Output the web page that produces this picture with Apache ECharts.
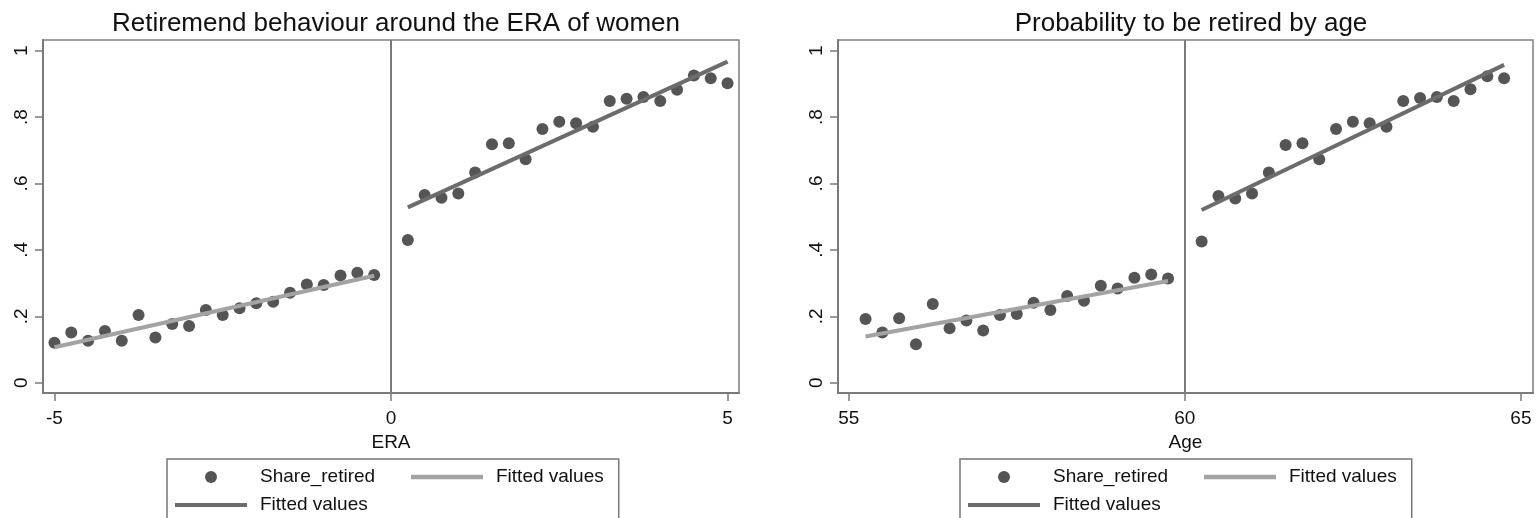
<!DOCTYPE html>
<html>
<head>
<meta charset="utf-8">
<script src="https://cdn.jsdelivr.net/npm/echarts@6/dist/echarts.min.js"></script>
<style>
  html, body { margin: 0; padding: 0; background: #fff; }
  #main { width: 1537px; height: 518px; }
</style>
</head>
<body>
<div id="main"></div>
<script>
// --- data ---
const titles = ['Retiremend behaviour around the ERA of women', 'Probability to be retired by age']
const axisNames = ['ERA', 'Age']

const eraTicks = [-5, 0, 5]
const ageTicks = [55, 60, 65]
const yTicks = [0, 0.2, 0.4, 0.6, 0.8, 1]
const yTickLabels = ['0', '.2', '.4', '.6', '.8', '1']

// left panel: ERA
const eraLeftX = [-5, -4.75, -4.5, -4.25, -4, -3.75, -3.5, -3.25, -3, -2.75, -2.5, -2.25, -2, -1.75, -1.5, -1.25, -1, -0.75, -0.5, -0.25]
const eraLeftY = [0.120, 0.151, 0.126, 0.156, 0.126, 0.204, 0.136, 0.177, 0.171, 0.219, 0.204, 0.224, 0.239, 0.244, 0.271, 0.296, 0.294, 0.323, 0.331, 0.324]
const eraRightX = [0.25, 0.5, 0.75, 1, 1.25, 1.5, 1.75, 2, 2.25, 2.5, 2.75, 3, 3.25, 3.5, 3.75, 4, 4.25, 4.5, 4.75, 5]
const eraRightY = [0.430, 0.565, 0.557, 0.570, 0.633, 0.718, 0.721, 0.673, 0.764, 0.786, 0.781, 0.771, 0.848, 0.855, 0.860, 0.848, 0.882, 0.925, 0.917, 0.902]
const eraFitLeftX = [-5, -0.25]
const eraFitLeftY = [0.107, 0.322]
const eraFitRightX = [0.25, 5]
const eraFitRightY = [0.528, 0.967]

// right panel: Age
const ageLeftX = [55.25, 55.5, 55.75, 56, 56.25, 56.5, 56.75, 57, 57.25, 57.5, 57.75, 58, 58.25, 58.5, 58.75, 59, 59.25, 59.5, 59.75]
const ageLeftY = [0.192, 0.151, 0.194, 0.116, 0.237, 0.164, 0.187, 0.157, 0.204, 0.207, 0.241, 0.219, 0.261, 0.247, 0.292, 0.284, 0.316, 0.326, 0.314]
const ageRightX = [60.25, 60.5, 60.75, 61, 61.25, 61.5, 61.75, 62, 62.25, 62.5, 62.75, 63, 63.25, 63.5, 63.75, 64, 64.25, 64.5, 64.75]
const ageRightY = [0.425, 0.562, 0.555, 0.570, 0.633, 0.716, 0.721, 0.673, 0.764, 0.786, 0.781, 0.771, 0.848, 0.857, 0.860, 0.848, 0.884, 0.923, 0.917]
const ageFitLeftX = [55.25, 59.75]
const ageFitLeftY = [0.139, 0.306]
const ageFitRightX = [60.25, 64.75]
const ageFitRightY = [0.520, 0.957]

const font = "'Liberation Sans', Arial, sans-serif"
const axisGray = '#7a7a7a'
const dotColor = '#555555'
const fitLight = '#a3a3a3'
const fitDark = '#6c6c6c'

const zip = (xs, ys) => xs.map((x, i) => [x, ys[i]])

function xAxisFor(idx, min, max, ticks) {
  return {
    gridIndex: idx, type: 'value', min: min, max: max,
    name: axisNames[idx], nameLocation: 'middle', nameGap: 28,
    nameTextStyle: { fontFamily: font, fontSize: 19, color: '#111' },
    splitLine: { show: false },
    axisLine: { show: true, onZero: false, lineStyle: { color: axisGray, width: 2 } },
    axisTick: { show: true, length: 8, customValues: ticks, lineStyle: { color: axisGray, width: 1.5 } },
    axisLabel: { customValues: ticks, margin: 16, fontFamily: font, fontSize: 19, color: '#111' }
  }
}

function yAxisFor(idx) {
  return {
    gridIndex: idx, type: 'value', min: -0.031, max: 1.032,
    splitLine: { show: false },
    axisLine: { show: true, onZero: false, lineStyle: { color: axisGray, width: 2 } },
    axisTick: { show: true, length: 8, customValues: yTicks, lineStyle: { color: axisGray, width: 1.5 } },
    axisLabel: {
      customValues: yTicks, rotate: 90, margin: 12,
      fontFamily: font, fontSize: 19, color: '#111',
      formatter: v => {
        let i = yTicks.findIndex(t => Math.abs(t - v) < 1e-9)
        return i >= 0 ? yTickLabels[i] : ''
      }
    }
  }
}

function legendFor(left) {
  return {
    left: left, top: 459, width: 440,
    orient: 'horizontal', selectedMode: false,
    itemWidth: 72, itemHeight: 12, itemGap: 8,
    padding: [8, 15, 8, 8],
    borderColor: '#777', borderWidth: 1.5, backgroundColor: '#fff',
    textStyle: { fontFamily: font, fontSize: 19, color: '#111', lineHeight: 20, padding: [0, 0, 0, 8] },
    formatter: name => name.indexOf('Fitted values') === 0 ? 'Fitted values' : name,
    data: [
      { name: 'Share_retired', icon: 'circle', textStyle: { width: 143 } },
      { name: 'Fitted values', icon: 'path://M0 0H72V4.5H0Z' },
      { name: 'Fitted values 2', icon: 'path://M0 0H72V4H0Z' }
    ]
  }
}

function panelSeries(idx, lx, ly, rx, ry, flx, fly, frx, fry, cut) {
  return [
    {
      name: 'Share_retired', type: 'scatter', xAxisIndex: idx, yAxisIndex: idx,
      symbolSize: 12, itemStyle: { color: dotColor, opacity: 1 }, silent: true,
      data: zip(lx, ly).concat(zip(rx, ry))
    },
    {
      name: 'Fitted values', type: 'line', xAxisIndex: idx, yAxisIndex: idx,
      symbol: 'none', showSymbol: false, silent: true,
      lineStyle: { color: fitLight, width: 4 }, itemStyle: { color: fitLight },
      data: zip(flx, fly)
    },
    {
      name: 'Fitted values 2', type: 'line', xAxisIndex: idx, yAxisIndex: idx,
      symbol: 'none', showSymbol: false, silent: true,
      lineStyle: { color: fitDark, width: 4 }, itemStyle: { color: fitDark },
      data: zip(frx, fry),
      markLine: {
        silent: true, symbol: ['none', 'none'], label: { show: false },
        lineStyle: { type: 'solid', color: axisGray, width: 2 },
        data: [{ xAxis: cut }]
      }
    }
  ]
}

let chart = echarts.init(document.getElementById('main'), null, { renderer: 'canvas' })

let option = {
  backgroundColor: '#fff',
  animation: false,
  title: [
    { text: titles[0], left: 391, top: 6, textAlign: 'center',
      textStyle: { fontFamily: font, fontSize: 26, fontWeight: 'normal', color: '#111' } },
    { text: titles[1], left: 1186, top: 6, textAlign: 'center',
      textStyle: { fontFamily: font, fontSize: 26, fontWeight: 'normal', color: '#111' } }
  ],
  grid: [
    { left: 43, top: 40, width: 696, height: 353, show: true, borderColor: '#808080', borderWidth: 1.5 },
    { left: 838, top: 40, width: 695, height: 353, show: true, borderColor: '#808080', borderWidth: 1.5 }
  ],
  xAxis: [
    xAxisFor(0, -5.17, 5.17, eraTicks),
    xAxisFor(1, 54.84, 65.18, ageTicks)
  ],
  yAxis: [yAxisFor(0), yAxisFor(1)],
  legend: [legendFor(167), legendFor(960)],
  series: panelSeries(0, eraLeftX, eraLeftY, eraRightX, eraRightY, eraFitLeftX, eraFitLeftY, eraFitRightX, eraFitRightY, 0)
    .concat(panelSeries(1, ageLeftX, ageLeftY, ageRightX, ageRightY, ageFitLeftX, ageFitLeftY, ageFitRightX, ageFitRightY, 60))
}

chart.setOption(option)
</script>
</body>
</html>
